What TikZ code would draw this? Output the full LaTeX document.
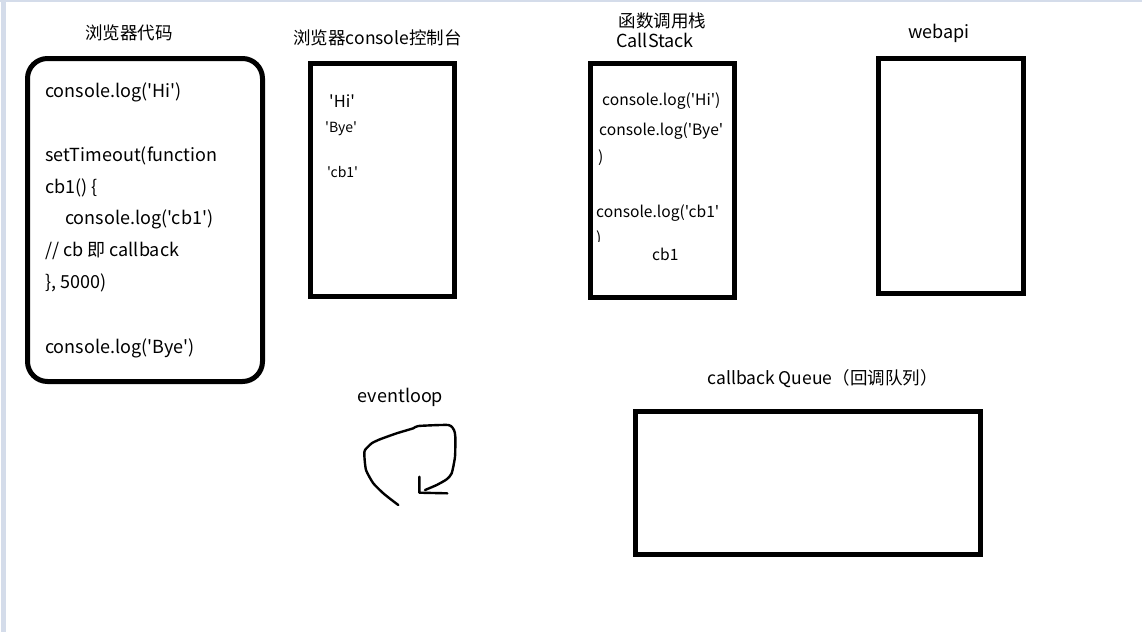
\documentclass[tikz,border=0pt]{standalone}
\usepackage{fontspec}
\newfontfamily\cjk{Noto Sans CJK SC}
\definecolor{strip}{RGB}{212,220,234}
\begin{document}
\begin{tikzpicture}[x=1pt,y=-1pt,
  box/.style={draw=black, line width=5pt},
  lt/.style={inner sep=0pt, anchor=base west},
  ct/.style={inner sep=0pt, anchor=base},
  fA/.style={font=\cjk\fontsize{18}{18}\selectfont},
  fT/.style={font=\cjk\fontsize{17.5}{17.5}\selectfont},
  fB/.style={font=\cjk\fontsize{15.6}{15.6}\selectfont},
  fH/.style={font=\cjk\fontsize{16.5}{16.5}\selectfont},
  fC/.style={font=\cjk\fontsize{14}{14}\selectfont},
  hand/.style={line width=2.4pt, line cap=round, line join=round}]
\useasboundingbox (0,0) rectangle (1142,632);
\fill[white] (0,0) rectangle (1142,632);
\fill[strip] (1,0) rectangle (6,632);
\fill[strip] (0,0) rectangle (1142,1.5);

% code box
\draw[box, rounded corners=20pt] (27.5,58.5) rectangle (262.5,381.5);
\node[ct,fT] (t1) at (129,39) {浏览器代码};
\node[lt,fA] (c1) at (45,97) {console.log('Hi')};
\node[lt,fA] (c2) at (45,161) {setTimeout(function};
\node[lt,fA] (c3) at (45,193) {cb1() \{};
\node[lt,fA] (c4) at (65,224) {console.log('cb1')};
\node[lt,fA] (c5) at (45,256) {// cb 即 callback};
\node[lt,fA] (c6) at (45,288) {\}, 5000)};
\node[lt,fA] (c7) at (45,353) {console.log('Bye')};

% console box
\draw[box] (310,63) rectangle (454,296.5);
\node[ct,fT] (t2) at (377.5,44) {浏览器console控制台};
\node[lt,fH] (o1) at (329,107) {'Hi'};
\node[lt,fC] (o2) at (325,132) {'Bye'};
\node[lt,fC] (o3) at (327,177) {'cb1'};

% call stack
\draw[box] (590,63.5) rectangle (734,297.5);
\node[ct,fT] (t3a) at (662.5,27) {函数调用栈};
\node[ct,fA] (t3b) at (655,47) {CallStack};
\node[lt,fB] (s1) at (602,105) {console.log('Hi')};
\node[lt,fB] (s2) at (599,135) {console.log('Bye'};
\node[lt,fB] (s2b) at (598,162) {)};
\node[lt,fB] (s3) at (596,217) {console.log('cb1'};
\begin{scope}
\clip (590,225) rectangle (620,241);
\node[lt,fB] (s3b) at (596,243) {)};
\end{scope}
\node[lt,fB] (s4) at (652,260) {cb1};

% webapi
\draw[box] (878.5,58.5) rectangle (1023.5,293.5);
\node[ct,fA] (t4) at (939,38) {webapi};

% callback queue
\draw[box] (635,411) rectangle (980,554);
\node[ct,fT] (t5) at (822.5,384) {callback Queue（回调队列）};

% event loop
\node[ct,fA] (t6) at (400.5,402) {eventloop};
\draw[hand] plot[smooth, tension=0.35] coordinates {(398.3,505) (391.7,500) (383.3,493.3) (373.3,483.3) (366,470) (364.3,455) (365,450) (371.7,443.3) (380,439.3) (396.7,433.3) (413.3,428.3) (418.3,426) (448.3,425) (454,430) (455.3,436.7) (455,456.7) (451.7,473.3) (446.7,479.3) (436.7,485) (425,490)};
\draw[hand] (419.3,476.7) -- (419.3,492.7) -- (447.3,493.3);
\end{tikzpicture}
\end{document}
